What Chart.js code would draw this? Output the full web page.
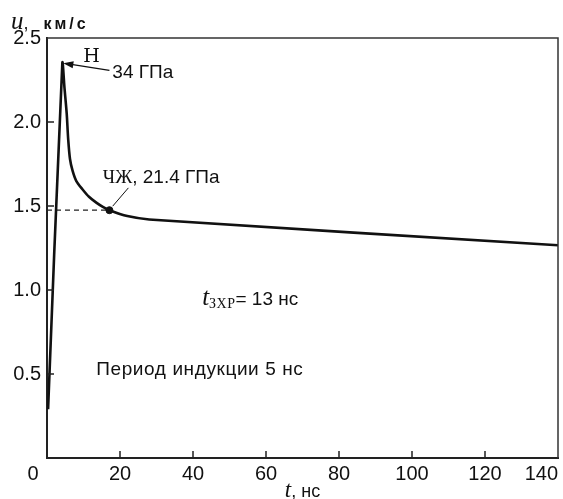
<!DOCTYPE html>
<html>
<head>
<meta charset="utf-8">
<script src="https://cdn.jsdelivr.net/npm/chart.js@4"></script>
<style>
  body { margin: 0; background: #fff; }
  #wrap { width: 563px; height: 499px; }
</style>
</head>
<body>
<div id="wrap"><canvas id="myChart"></canvas></div>
<script>
// mass velocity profile u(t)
const timeNs   = [0.3, 4.2, 4.8, 5.4, 5.8, 6.3, 7.0, 8.0, 9.7, 11.5, 13.5, 15.3, 17.1, 22, 28, 140];
const velocity = [0.29, 2.35, 2.2, 2.05, 1.9, 1.78, 1.71, 1.65, 1.6, 1.555, 1.52, 1.495, 1.475, 1.44, 1.42, 1.266];
// Chapman-Jouguet point (ЧЖ)
const cjPoint = [17.1, 1.475];
const xTicks = [0, 20, 40, 60, 80, 100, 120, 140];
const yTicks = [0, 0.5, 1.0, 1.5, 2.0, 2.5];

const SANS = '"Liberation Sans", Arial, sans-serif';
const SERIF = '"Liberation Serif", "DejaVu Serif", serif';

const drawRuns = (ctx, x, y, parts) => {
  ctx.textAlign = 'left';
  ctx.textBaseline = 'alphabetic';
  for (const [text, font, dy, sp] of parts) {
    ctx.font = font;
    ctx.letterSpacing = (sp || 0) + 'px';
    ctx.fillText(text, x, y + (dy || 0));
    x += ctx.measureText(text).width;
  }
  ctx.letterSpacing = '0px';
};

// frame on top/right and inward tick marks
const frame = {
  id: 'frame',
  afterDraw(chart) {
    const {ctx, chartArea: a, scales: {x, y}} = chart;
    ctx.save();
    ctx.strokeStyle = '#333';
    ctx.lineWidth = 1.5;
    ctx.beginPath();
    ctx.moveTo(a.left, a.top); ctx.lineTo(a.right, a.top); ctx.lineTo(a.right, a.bottom);
    ctx.stroke();
    ctx.strokeStyle = '#222';
    ctx.lineWidth = 1.5;
    ctx.beginPath();
    xTicks.slice(1, -1).forEach(v => {
      const px = x.getPixelForValue(v);
      ctx.moveTo(px, a.bottom); ctx.lineTo(px, a.bottom - 7);
    });
    yTicks.slice(1, -1).forEach(v => {
      const py = y.getPixelForValue(v);
      ctx.moveTo(a.left, py); ctx.lineTo(a.left + 7, py);
    });
    ctx.stroke();

    // axis titles
    ctx.fillStyle = '#111';
    drawRuns(ctx, 11, 29, [['u', 'italic 25px ' + SERIF], [',', '18px ' + SANS], ['  км/с', 'bold 16px ' + SANS, 0, 3]]);
    ctx.font = 'italic 23px ' + SERIF;
    const w1 = ctx.measureText('t').width;
    ctx.font = '18px ' + SANS;
    const w2 = ctx.measureText(', нс').width;
    const cx = (a.left + a.right) / 2 - (w1 + w2) / 2;
    drawRuns(ctx, cx, 497, [['t', 'italic 23px ' + SERIF], [', нс', '18px ' + SANS]]);
    ctx.restore();
  }
};

const notes = {
  id: 'notes',
  afterDatasetsDraw(chart) {
    const {ctx, scales: {x, y}} = chart;
    const X = v => x.getPixelForValue(v);
    const Y = v => y.getPixelForValue(v);
    ctx.save();
    ctx.fillStyle = '#111';
    ctx.strokeStyle = '#111';

    // Н, 34 ГПа with arrow to the peak
    drawRuns(ctx, X(9.9), Y(2.36), [['Н', '19px "DejaVu Serif", serif']]);
    drawRuns(ctx, X(17.9), Y(2.263), [['34 ГПа', '19px ' + SANS]]);
    const x0 = X(17.1), y0 = Y(2.307), x1 = X(timeNs[1]) + 1, y1 = Y(velocity[1]);
    const ang = Math.atan2(y1 - y0, x1 - x0);
    ctx.lineWidth = 1.3;
    ctx.beginPath(); ctx.moveTo(x0, y0); ctx.lineTo(x1 - 8 * Math.cos(ang), y1 - 8 * Math.sin(ang)); ctx.stroke();
    ctx.beginPath();
    ctx.moveTo(x1, y1);
    ctx.lineTo(x1 - 10 * Math.cos(ang) + 3.5 * Math.sin(ang), y1 - 10 * Math.sin(ang) - 3.5 * Math.cos(ang));
    ctx.lineTo(x1 - 10 * Math.cos(ang) - 3.5 * Math.sin(ang), y1 - 10 * Math.sin(ang) + 3.5 * Math.cos(ang));
    ctx.closePath(); ctx.fill();

    // ЧЖ label and leader
    drawRuns(ctx, X(15.3), Y(1.638), [['ЧЖ', '19px ' + SERIF], [', 21.4 ГПа', '19px ' + SANS]]);
    ctx.lineWidth = 1;
    ctx.beginPath(); ctx.moveTo(X(22.3), Y(1.608)); ctx.lineTo(X(18.0), Y(1.499)); ctx.stroke();

    drawRuns(ctx, X(42.5), Y(0.913), [
      ['t', 'italic 25px ' + SERIF],
      ['ЗХР', '14px ' + SERIF, 3, 0.5],
      ['= 13 нс', '19px ' + SANS]
    ]);
    drawRuns(ctx, X(13.5), Y(0.496), [['Период индукции 5 нс', '19px ' + SANS, 0, 0.6]]);
    ctx.restore();
  }
};

const noPad = s => { s.paddingLeft = 0; s.paddingRight = 0; s.paddingTop = 0; s.paddingBottom = 0; };

const ctx = document.getElementById('myChart');
new Chart(ctx, {
  type: 'line',
  data: {
    datasets: [
      {
        data: timeNs.map((t, i) => ({x: t, y: velocity[i]})),
        borderColor: '#111',
        borderWidth: 2.6,
        pointRadius: 0,
        tension: 0.3
      },
      {
        data: [{x: 0, y: cjPoint[1]}, {x: cjPoint[0], y: cjPoint[1]}],
        borderColor: '#222',
        borderWidth: 1.3,
        borderDash: [5, 4],
        pointRadius: 0
      },
      {
        data: [{x: cjPoint[0], y: cjPoint[1]}],
        showLine: false,
        pointRadius: 3.5,
        pointBackgroundColor: '#111',
        pointBorderColor: '#111'
      }
    ]
  },
  options: {
    responsive: true,
    maintainAspectRatio: false,
    animation: false,
    layout: { padding: { top: 38, right: -4, left: 0, bottom: 0 } },
    plugins: { legend: { display: false }, tooltip: { enabled: false } },
    scales: {
      x: {
        type: 'linear', min: 0, max: 140,
        afterBuildTicks: s => { s.ticks = xTicks.map(v => ({value: v})); },
        afterFit: s => { s.height = 41; noPad(s); },
        grid: { display: false, drawTicks: false },
        border: { display: true, color: '#222', width: 2 },
        ticks: { font: { family: SANS, size: 20 }, color: '#111', padding: 4, maxRotation: 0, autoSkip: false,
          // end labels sit inside the frame, as in the original
          callback: v => v === 0 ? '0     ' : v === 140 ? '140      ' : String(v) }
      },
      y: {
        type: 'linear', min: 0, max: 2.5,
        afterBuildTicks: s => { s.ticks = yTicks.map(v => ({value: v})); },
        afterFit: s => { s.width = 47; noPad(s); },
        grid: { display: false, drawTicks: false },
        border: { display: true, color: '#222', width: 2 },
        ticks: { font: { family: SANS, size: 20 }, color: '#111', padding: 6,
          callback: v => v === 0 ? '' : v.toFixed(1) }
      }
    }
  },
  plugins: [frame, notes]
});
</script>
</body>
</html>
